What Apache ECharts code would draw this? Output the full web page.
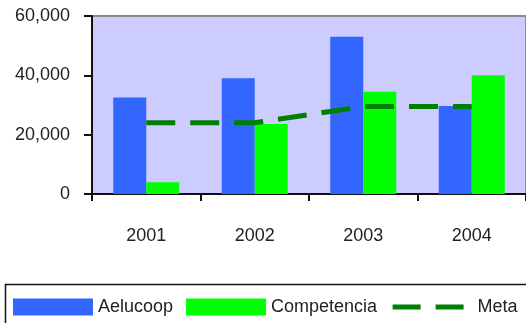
<!DOCTYPE html>
<html>
<head>
<meta charset="utf-8">
<script src="https://cdn.jsdelivr.net/npm/echarts@6/dist/echarts.min.js"></script>
<style>
  html, body { margin: 0; padding: 0; background: #fff; }
  #chart { width: 526px; height: 323px; }
</style>
</head>
<body>
<div id="chart"></div>
<script>
// Annual figures
const years = ['2001', '2002', '2003', '2004'];
const aelucoop = [32500, 39000, 53000, 29700];
const competencia = [4000, 23600, 34500, 40000];
const meta = [24000, 24000, 29500, 29500];

const FONT = '"Liberation Sans", Arial, sans-serif';
const FS = 18;
const META_LINE = { color: '#008000', width: 5, type: [29, 15], cap: 'butt' };

const chart = echarts.init(document.getElementById('chart'), null, { renderer: 'canvas' });

chart.setOption({
  animation: false,
  backgroundColor: '#ffffff',
  textStyle: { fontFamily: FONT },
  grid: {
    left: 92, top: 16, right: -2, bottom: 129,
    show: true,
    backgroundColor: '#CCCCFF',
    borderColor: '#8a8a8a',
    borderWidth: 2
  },
  // frame around the legend, running off the right and bottom edges
  graphic: [{
    type: 'rect',
    left: 3, top: 282,
    shape: { width: 560, height: 80 },
    style: { fill: 'none', stroke: '#111', lineWidth: 1.5 },
    z: 10
  }],
  legend: {
    left: 3, top: 282,
    width: 560,
    padding: [16, 8, 10, 10],
    itemWidth: 80, itemHeight: 17, itemGap: 13,
    textStyle: { fontFamily: FONT, fontSize: FS, color: '#222' },
    data: [
      { name: 'Aelucoop', icon: 'rect' },
      { name: 'Competencia', icon: 'rect' },
      {
        name: 'Meta',
        lineStyle: { color: '#008000', width: 5, type: [28, 15], cap: 'butt' },
        itemStyle: { opacity: 0, color: 'rgba(0,0,0,0)', borderWidth: 0 }
      }
    ]
  },
  xAxis: {
    type: 'category',
    data: years,
    boundaryGap: true,
    axisLine: { lineStyle: { color: '#111', width: 2 } },
    axisTick: { show: true, length: 7, lineStyle: { color: '#111', width: 2 } },
    axisLabel: { margin: 33, fontFamily: FONT, fontSize: FS, color: '#222' }
  },
  yAxis: {
    type: 'value',
    min: 0, max: 60000, interval: 20000,
    splitLine: { show: false },
    axisLine: { show: true, lineStyle: { color: '#111', width: 2 } },
    axisTick: { show: true, length: 8, lineStyle: { color: '#111', width: 2 } },
    axisLabel: {
      margin: 22, fontFamily: FONT, fontSize: FS, color: '#222',
      formatter: v => v.toLocaleString('en-US')
    }
  },
  series: [
    {
      name: 'Aelucoop', type: 'bar', data: aelucoop,
      barWidth: 33, barGap: '0%',
      itemStyle: { color: '#3366FF', borderRadius: 0 }
    },
    {
      name: 'Competencia', type: 'bar', data: competencia,
      barWidth: 33, barGap: '0%',
      itemStyle: { color: '#00FF00', borderRadius: 0 }
    },
    {
      name: 'Meta', type: 'line', data: meta,
      symbol: 'none', showSymbol: false,
      lineStyle: META_LINE,
      itemStyle: { color: '#008000' },
      z: 5
    }
  ]
});
</script>
</body>
</html>
